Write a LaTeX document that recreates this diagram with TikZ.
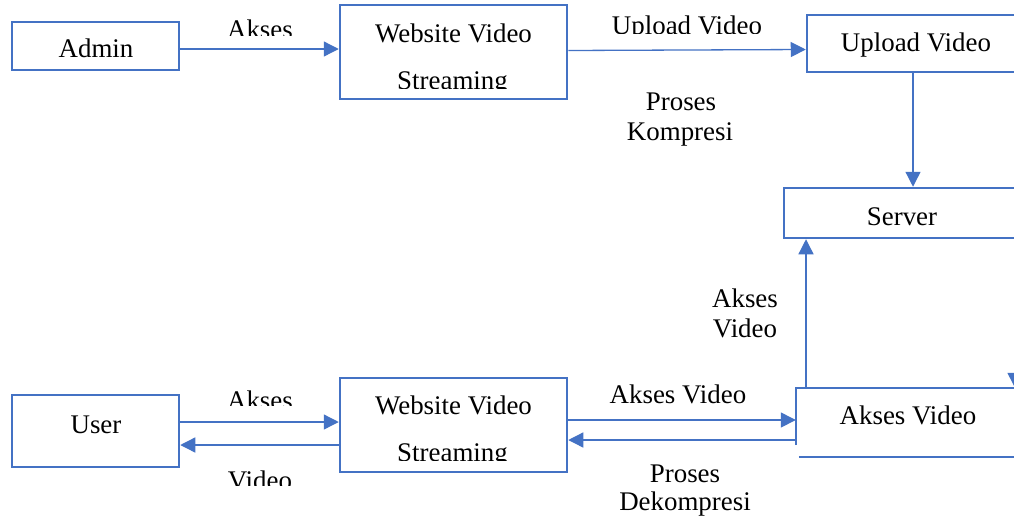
\documentclass[tikz,border=0pt]{standalone}
\usepackage{fontspec}
\setmainfont{Liberation Serif}
\usetikzlibrary{arrows.meta}
\definecolor{ob}{HTML}{4472C4}
\begin{document}
\begin{tikzpicture}[x=1pt,y=-1pt,
  box/.style={draw=ob,line width=2.5pt,rectangle,inner sep=0pt},
  openbox/.style={draw=none,rectangle,inner sep=0pt},
  boxline/.style={draw=ob,line width=2.5pt},
  arr/.style={draw=ob,line width=1.3pt,-{Triangle[length=15pt,width=15pt]}},
  txt/.style={font=\fontsize{26.9pt}{30pt}\selectfont,inner sep=0pt,anchor=base,text=black}]
\clip (0,0) rectangle (1014,517);
\fill[white] (0,0) rectangle (1014,517);
% boxes
\node[box,minimum width=167pt,minimum height=48pt] (admin) at (95.5,46) {};
\node[box,minimum width=227pt,minimum height=94pt] (web1) at (453.5,52) {};
\node[box,minimum width=223pt,minimum height=57pt] (upload) at (918.5,43.5) {};
\node[box,minimum width=246pt,minimum height=50pt] (server) at (907,213) {};
\node[box,minimum width=167pt,minimum height=72pt] (user) at (95.5,431) {};
\node[box,minimum width=227pt,minimum height=94pt] (web2) at (453.5,425) {};
\node[openbox,minimum width=234pt,minimum height=69pt] (av) at (913,422.5) {};
% open box for Akses Video
\draw[boxline] (av.west |- 0,445) -- (av.north west) -- (av.north east);
\draw[boxline] ([xshift=3pt]av.south west) -- (av.south east);
% texts
\node[txt] (tadmin) at (96,57) {Admin};
\begin{scope}
\clip (200,0) rectangle (330,35);
\node[txt] (takses1) at (260,38) {Akses};
\end{scope}
\node[txt] (tweb1a) at (453.5,42) {Website Video};
\begin{scope}
\clip (345,60) rectangle (560,88);
\node[txt] (tweb1b) at (452.5,89) {Streaming};
\end{scope}
\begin{scope}
\clip (590,0) rectangle (790,33.5);
\node[txt] (tupl) at (687,34) {Upload Video};
\end{scope}
\node[txt] (tpros1) at (681,110) {Proses};
\node[txt] (tkomp) at (680,140) {Kompresi};
\node[txt] (tuplbox) at (916,51) {Upload Video};
\node[txt] (tserver) at (902,225) {Server};
\node[txt] (tav1) at (745,307) {Akses};
\node[txt] (tav2) at (745,337) {Video};
\node[txt] (tuser) at (96,433) {User};
\begin{scope}
\clip (200,380) rectangle (330,405);
\node[txt] (takses2) at (260,409) {Akses};
\end{scope}
\begin{scope}
\clip (200,460) rectangle (330,485);
\node[txt] (tvideo) at (260,489) {Video};
\end{scope}
\node[txt] (tweb2a) at (453.5,414) {Website Video};
\begin{scope}
\clip (345,430) rectangle (560,460);
\node[txt] (tweb2b) at (452.5,461) {Streaming};
\end{scope}
\node[txt] (tavmid) at (678,403) {Akses Video};
\node[txt] (tpros2) at (685,482) {Proses};
\node[txt] (tdekomp) at (685,510) {Dekompresi};
\node[txt] (tavbox) at (908,424) {Akses Video};
% connectors
\draw[arr] (admin.east |- 0,49) -- (web1.west |- 0,49);
\draw[arr] (web1.east |- 0,50.5) -- (upload.west |- 0,49.5);
\draw[arr] (upload.south -| 913,0) -- (server.north -| 913,0);
\draw[arr] (av.north -| 806,0) -- (server.south -| 806,0);
\draw[arr] (server.south -| 1015,0) -- (av.north -| 1015,0);
\draw[arr] (user.east |- 0,422) -- (web2.west |- 0,422);
\draw[arr] (web2.west |- 0,445) -- (user.east |- 0,445);
\draw[arr] (web2.east |- 0,420) -- (av.west |- 0,420);
\draw[arr] (av.west |- 0,440) -- (web2.east |- 0,440);
\end{tikzpicture}
\end{document}
